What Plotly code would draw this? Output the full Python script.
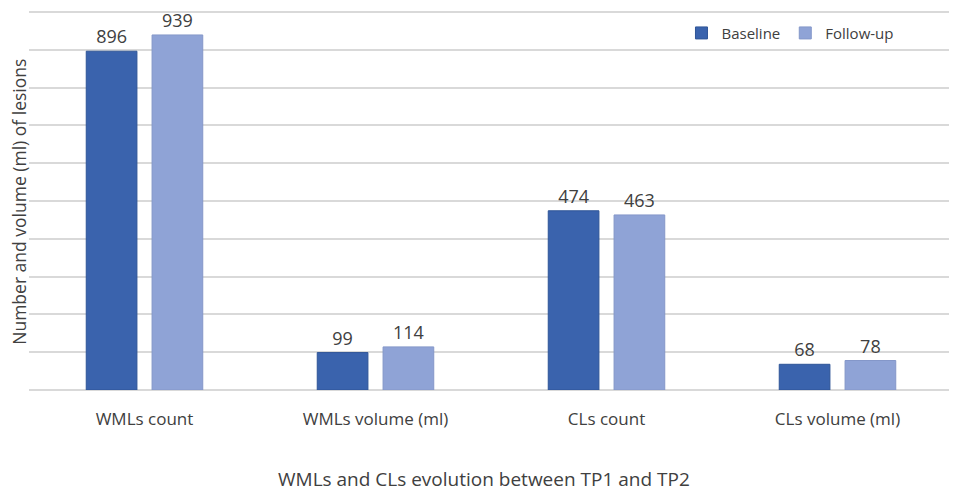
import plotly.graph_objects as go

# Chart Data #
categories = ["WMLs count", "WMLs volume (ml)", "CLs count", "CLs volume (ml)"]
baseline_values = [896, 99, 474, 68]
follow_up_values = [939, 114, 463, 78]
y_gridlines = [0, 100, 200, 300, 400, 500, 600, 700, 800, 900, 1000]

text_colour = "#404040"
font_family = "Open Sans, Noto Sans, sans-serif"

fig = go.Figure()

# Bars #
fig.add_trace(go.Bar(
    name="Baseline",
    x=categories,
    y=baseline_values,
    text=baseline_values,
    textposition="outside",
    marker=dict(color="#3A63AD", line=dict(color="#2F5597", width=1)),
    cliponaxis=False
))
fig.add_trace(go.Bar(
    name="Follow-up",
    x=categories,
    y=follow_up_values,
    text=follow_up_values,
    textposition="outside",
    marker=dict(color="#8FA3D6", line=dict(color="#8497C9", width=1)),
    cliponaxis=False
))

fig.update_traces(textfont=dict(size=18, color=text_colour, family=font_family))

# Layout #
# page body has an 8px margin, so the figure is made 8px smaller each way
fig.update_layout(
    width=949,
    height=488,
    margin=dict(l=21, r=4, t=2, b=106),
    paper_bgcolor="white",
    plot_bgcolor="white",
    barmode="group",
    bargap=0.43,
    bargroupgap=0.23,
    font=dict(family=font_family, color=text_colour, size=14),
    legend=dict(
        orientation="h",
        x=0.941,
        xanchor="right",
        y=0.939,
        yanchor="middle",
        font=dict(size=15, color=text_colour),
        bgcolor="rgba(255,255,255,0)"
    ),
    uniformtext=dict(mode=False)
)

# Axis Titles as Annotations #
fig.add_annotation(
    text="WMLs and CLs evolution between TP1 and TP2",
    xref="paper", yref="paper",
    x=0.492, y=-0.234,
    xanchor="center", yanchor="middle",
    showarrow=False,
    font=dict(size=19, color=text_colour)
)
fig.add_annotation(
    text="Number and volume (ml) of lesions",
    xref="paper", yref="paper",
    x=-0.011, y=0.495,
    xanchor="center", yanchor="middle",
    textangle=-90,
    showarrow=False,
    font=dict(size=17.5, color=text_colour)
)

# X Axis #
fig.update_xaxes(
    automargin=False,
    ticks="outside",
    ticklen=14,
    tickcolor="rgba(0,0,0,0)",
    tickfont=dict(size=17, color=text_colour),
    showline=False,
    showgrid=False
)

# Y Axis #
fig.update_yaxes(
    automargin=False,
    range=[0, 1005],
    tickvals=y_gridlines,
    showticklabels=False,
    showgrid=True,
    gridcolor="#D9D9D9",
    gridwidth=1.5,
    zeroline=True,
    zerolinecolor="#D9D9D9",
    zerolinewidth=1.5
)

fig.write_html("out.html")
